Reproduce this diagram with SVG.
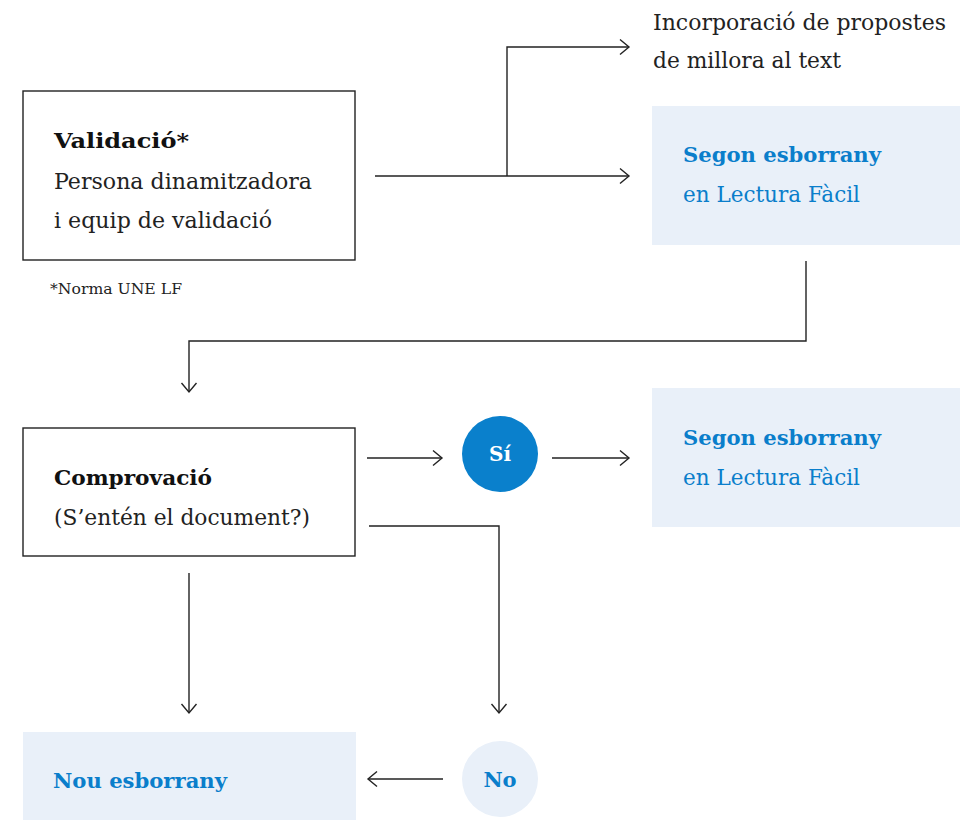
<svg xmlns="http://www.w3.org/2000/svg" width="978" height="820" viewBox="0 0 978 820">
<defs>
<marker id="arr" markerUnits="userSpaceOnUse" markerWidth="14" markerHeight="18" refX="11" refY="9" orient="auto">
<path d="M2,1.5 L11,9 L2,16.5" fill="none" stroke="#222" stroke-width="1.4"/>
</marker>
<style>
.box{fill:#fff;stroke:#222;stroke-width:1.4}
.lbox{fill:#e9f0f9}
.t{font-family:"DejaVu Serif","Liberation Serif",serif;font-size:22px;fill:#222;font-weight:300}
.b{font-family:"DejaVu Serif","Liberation Serif",serif;font-size:21px;font-weight:bold;fill:#111}
.bb{font-family:"DejaVu Serif","Liberation Serif",serif;font-size:21px;font-weight:bold;fill:#0a7ecb}
.bl{font-family:"DejaVu Serif","Liberation Serif",serif;font-size:22px;fill:#0a7ecb}
.small{font-family:"DejaVu Serif","Liberation Serif",serif;font-size:14px;fill:#222}
.c{fill:none;stroke:#222;stroke-width:1.4}
</style>
</defs>
<rect width="978" height="820" fill="#fff"/>
<g id="connectors">
<path class="c" d="M375,176 H629" marker-end="url(#arr)"/>
<path class="c" d="M507,176 V47 H629" marker-end="url(#arr)"/>
<path class="c" d="M806,261 V341 H189 V392" marker-end="url(#arr)"/>
<path class="c" d="M367,458 H442" marker-end="url(#arr)"/>
<path class="c" d="M552,458 H629" marker-end="url(#arr)"/>
<path class="c" d="M369,526 H499 V713" marker-end="url(#arr)"/>
<path class="c" d="M189,573 V713" marker-end="url(#arr)"/>
<path class="c" d="M443,779 H368" marker-end="url(#arr)"/>
</g>
<g id="validacio">
<rect class="box" x="23" y="91" width="332" height="169"/>
<text class="b" x="54" y="148" textLength="135" lengthAdjust="spacingAndGlyphs">Validació*</text>
<text class="t" x="54" y="189" textLength="258" lengthAdjust="spacingAndGlyphs">Persona dinamitzadora</text>
<text class="t" x="54" y="228" textLength="218" lengthAdjust="spacingAndGlyphs">i equip de validació</text>
</g>
<g id="nota">
<text class="small" x="50" y="294" textLength="132" lengthAdjust="spacingAndGlyphs">*Norma UNE LF</text>
</g>
<g id="incorporacio">
<text class="t" x="653" y="30" textLength="293" lengthAdjust="spacingAndGlyphs">Incorporació de propostes</text>
<text class="t" x="653" y="68" textLength="188" lengthAdjust="spacingAndGlyphs">de millora al text</text>
</g>
<g id="segon1">
<rect class="lbox" x="652" y="106" width="308" height="139"/>
<text class="bb" x="683" y="162" textLength="198" lengthAdjust="spacingAndGlyphs">Segon esborrany</text>
<text class="bl" x="683" y="202" textLength="177" lengthAdjust="spacingAndGlyphs">en Lectura Fàcil</text>
</g>
<g id="comprovacio">
<rect class="box" x="23" y="428" width="332" height="128"/>
<text class="b" x="54" y="485" textLength="158" lengthAdjust="spacingAndGlyphs">Comprovació</text>
<text class="t" x="54" y="525" textLength="256" lengthAdjust="spacingAndGlyphs">(S’entén el document?)</text>
</g>
<g id="si">
<circle cx="500" cy="454" r="38" fill="#0a80cc"/>
<text x="500" y="461" text-anchor="middle" font-family="DejaVu Serif, Liberation Serif, serif" font-size="20" font-weight="bold" fill="#fff">Sí</text>
</g>
<g id="segon2">
<rect class="lbox" x="652" y="388" width="308" height="139"/>
<text class="bb" x="683" y="445" textLength="198" lengthAdjust="spacingAndGlyphs">Segon esborrany</text>
<text class="bl" x="683" y="485" textLength="177" lengthAdjust="spacingAndGlyphs">en Lectura Fàcil</text>
</g>
<g id="nou">
<rect class="lbox" x="23" y="732" width="333" height="88"/>
<text class="bb" x="53" y="788" textLength="174" lengthAdjust="spacingAndGlyphs">Nou esborrany</text>
</g>
<g id="no">
<circle cx="500" cy="779" r="38" fill="#e9f0f9"/>
<text x="500" y="787" text-anchor="middle" font-family="DejaVu Serif, Liberation Serif, serif" font-size="21" font-weight="bold" fill="#0a7ecb">No</text>
</g>
</svg>
